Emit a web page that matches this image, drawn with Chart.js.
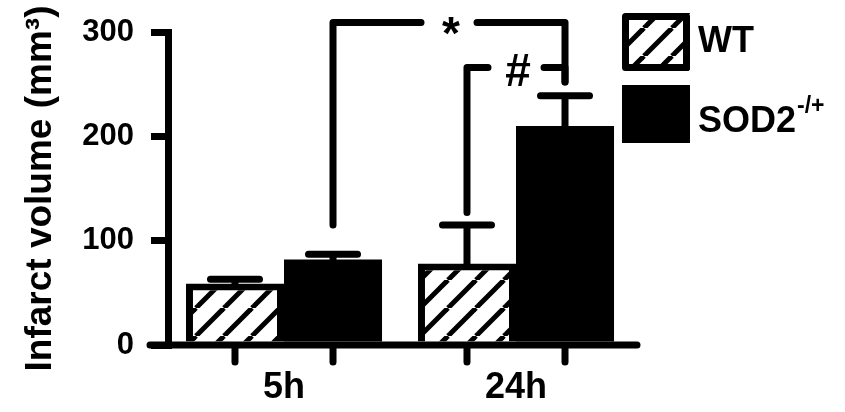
<!DOCTYPE html>
<html>
<head>
<meta charset="utf-8">
<script src="https://cdn.jsdelivr.net/npm/chart.js@4.4.0/dist/chart.umd.min.js"></script>
<style>
  html, body { margin: 0; padding: 0; background: #fff; }
  #wrap { width: 845px; height: 412px; }
</style>
</head>
<body>
<div id="wrap"><canvas id="infarctChart" width="845" height="412"></canvas></div>
<script>
var timepoints = ['5h', '24h'];
var wtMeans = [59, 78];
var wtErrors = [4, 37];
var sodMeans = [82, 210];
var sodErrors = [5, 29];
var yTicks = [0, 100, 200, 300];
var seriesNames = ['WT', 'SOD2'];
var seriesSup = ['', '-/+'];

// significance brackets: bar [dataset, index] at each end, level of the line,
// and the levels where the left / right drops stop
var bracketLabels = ['*', '#'];
var bracketFrom = [[1, 0], [0, 1]];
var bracketTo = [[1, 1], [1, 1]];
var bracketLevels = [309, 266];
var bracketEnds = [[115, 252], [127, 252]];

var FONT = '"Liberation Sans", Arial, sans-serif';

function hatchPattern() {
    var s = 28;
    var c = document.createElement('canvas');
    c.width = s;
    c.height = s;
    var g = c.getContext('2d');
    g.fillStyle = '#fff';
    g.fillRect(0, 0, s, s);
    g.strokeStyle = '#000';
    g.lineWidth = 5;
    for (var k = -1; k <= 1; k++) {
        g.beginPath();
        g.moveTo(k * s, s);
        g.lineTo(k * s + s, 0);
        g.stroke();
    }
    return g.createPattern(c, 'repeat');
}

var errorBars = {
    id: 'errorBars',
    afterDatasetsDraw: function (chart) {
        var ctx = chart.ctx, y = chart.scales.y;
        ctx.save();
        ctx.strokeStyle = '#000';
        ctx.lineWidth = 7;
        ctx.lineCap = 'round';
        chart.data.datasets.forEach(function (ds, i) {
            chart.getDatasetMeta(i).data.forEach(function (bar, j) {
                var top = y.getPixelForValue(ds.data[j] + ds.errors[j]);
                var half = bar.width * 0.25;
                ctx.beginPath();
                ctx.moveTo(bar.x, bar.y);
                ctx.lineTo(bar.x, top);
                ctx.moveTo(bar.x - half, top);
                ctx.lineTo(bar.x + half, top);
                ctx.stroke();
            });
        });
        ctx.restore();
    }
};

var xAxisLine = {
    id: 'xAxisLine',
    afterDatasetsDraw: function (chart) {
        var ctx = chart.ctx, area = chart.chartArea;
        ctx.save();
        ctx.strokeStyle = '#000';
        ctx.lineWidth = 7;
        ctx.lineCap = 'round';
        ctx.beginPath();
        ctx.moveTo(area.left - 18, area.bottom);
        ctx.lineTo(area.right + 5, area.bottom);
        chart.data.datasets.forEach(function (ds, i) {
            chart.getDatasetMeta(i).data.forEach(function (bar) {
                ctx.moveTo(bar.x, area.bottom);
                ctx.lineTo(bar.x, area.bottom + 17);
            });
        });
        ctx.stroke();
        ctx.restore();
    }
};

var brackets = {
    id: 'brackets',
    afterDraw: function (chart) {
        var ctx = chart.ctx, y = chart.scales.y;
        ctx.save();
        ctx.strokeStyle = '#000';
        ctx.fillStyle = '#000';
        ctx.lineWidth = 7;
        ctx.lineCap = 'round';
        ctx.lineJoin = 'round';
        ctx.font = 'bold 46px ' + FONT;
        ctx.textAlign = 'center';
        ctx.textBaseline = 'alphabetic';
        bracketLabels.forEach(function (label, k) {
            var a = chart.getDatasetMeta(bracketFrom[k][0]).data[bracketFrom[k][1]];
            var b = chart.getDatasetMeta(bracketTo[k][0]).data[bracketTo[k][1]];
            var yl = y.getPixelForValue(bracketLevels[k]);
            var e1 = y.getPixelForValue(bracketEnds[k][0]);
            var e2 = y.getPixelForValue(bracketEnds[k][1]);
            var xm = (a.x + b.x) / 2;
            var gap = 28;
            ctx.beginPath();
            ctx.moveTo(a.x, e1);
            ctx.lineTo(a.x, yl);
            ctx.lineTo(xm - gap, yl);
            ctx.moveTo(xm + gap, yl);
            ctx.lineTo(b.x, yl);
            ctx.lineTo(b.x, e2);
            ctx.stroke();
            var m = ctx.measureText(label);
            var cy = yl + 3;
            ctx.fillText(label, xm + 2, cy + (m.actualBoundingBoxAscent - m.actualBoundingBoxDescent) / 2);
        });
        ctx.restore();
    }
};

var boxLegend = {
    id: 'boxLegend',
    afterDraw: function (chart) {
        var ctx = chart.ctx;
        var left = 622, boxW = 68, boxH = 58;
        var tops = [13, 85];
        var baselines = [52, 132];
        ctx.save();
        chart.data.datasets.forEach(function (ds, i) {
            ctx.fillStyle = ds.backgroundColor;
            ctx.fillRect(left, tops[i], boxW, boxH);
            ctx.strokeStyle = '#000';
            ctx.lineWidth = 7;
            ctx.lineJoin = 'round';
            ctx.strokeRect(left + 3.5, tops[i] + 3.5, boxW - 7, boxH - 7);
            ctx.fillStyle = '#000';
            ctx.textAlign = 'left';
            ctx.textBaseline = 'alphabetic';
            ctx.font = 'bold 36px ' + FONT;
            ctx.fillText(seriesNames[i], 698, baselines[i]);
            if (seriesSup[i]) {
                var w = ctx.measureText(seriesNames[i]).width;
                ctx.font = 'bold 23px ' + FONT;
                ctx.fillText(seriesSup[i], 698 + w + 1, baselines[i] - 19);
            }
        });
        ctx.restore();
    }
};

var chart = new Chart(document.getElementById('infarctChart'), {
    type: 'bar',
    data: {
        labels: timepoints,
        datasets: [{
            label: 'WT',
            data: wtMeans,
            errors: wtErrors,
            backgroundColor: hatchPattern(),
            borderColor: '#000',
            borderWidth: 7,
            categoryPercentage: 0.845,
            barPercentage: 1
        }, {
            label: 'SOD2-/+',
            data: sodMeans,
            errors: sodErrors,
            backgroundColor: '#000',
            borderWidth: 0,
            categoryPercentage: 0.845,
            barPercentage: 1
        }]
    },
    options: {
        responsive: false,
        animation: false,
        devicePixelRatio: 1,
        layout: { padding: { top: 32, right: 213, bottom: 8, left: 0 } },
        plugins: {
            legend: { display: false },
            tooltip: { enabled: false }
        },
        scales: {
            x: {
                grid: { display: false, drawTicks: false },
                border: { display: false },
                afterFit: function (s) { s.height = 59; },
                ticks: { color: '#000', padding: 25, font: { family: FONT, size: 36, weight: 'bold', lineHeight: 1 } }
            },
            y: {
                min: 0,
                max: 300,
                afterBuildTicks: function (s) {
                    s.ticks = yTicks.map(function (v) { return { value: v }; });
                },
                afterFit: function (s) {
                    s.width = 168;
                    s.paddingTop = 0;
                    s.paddingBottom = 0;
                },
                ticks: { color: '#000', padding: 17, font: { family: FONT, size: 31, weight: 'bold' } },
                grid: { drawOnChartArea: false, tickLength: 17, lineWidth: 7, color: '#000' },
                border: { width: 7, color: '#000' },
                title: {
                    display: true,
                    text: 'Infarct volume (mm³)',
                    color: '#000',
                    padding: { top: 19, bottom: 0 },
                    font: { family: FONT, size: 37, weight: 'bold' }
                }
            }
        }
    },
    plugins: [errorBars, xAxisLine, brackets, boxLegend]
});
</script>
</body>
</html>
